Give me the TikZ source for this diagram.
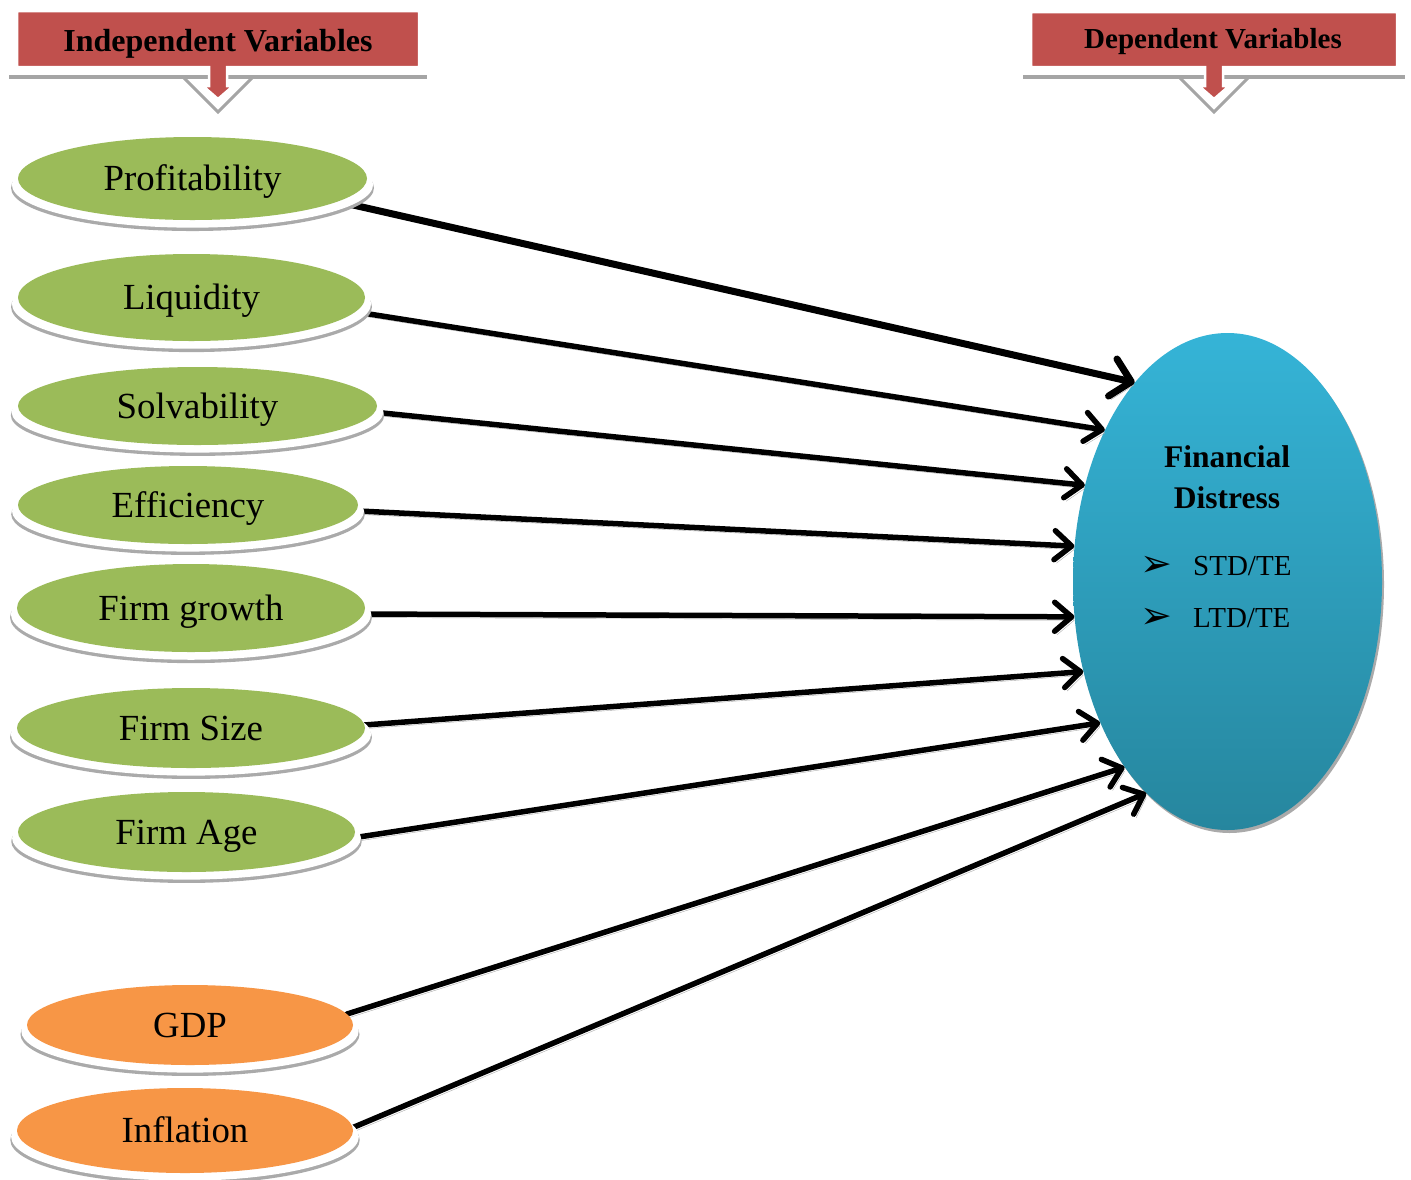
\documentclass[tikz,border=0pt]{standalone}
\usepackage{fontspec}
\setmainfont{Liberation Serif}
\newfontfamily\dejavu{DejaVu Sans}
\usetikzlibrary{shapes.geometric,arrows.meta,shadows,backgrounds}
\pgfdeclarelayer{back0}
\pgfsetlayers{back0,background,main}
\definecolor{vgreen}{RGB}{155,187,89}
\definecolor{vorange}{RGB}{247,150,70}
\definecolor{hred}{RGB}{192,80,77}
\definecolor{hgray}{RGB}{165,165,165}
\definecolor{sgray}{RGB}{170,170,170}
\definecolor{fdtop}{RGB}{53,180,215}
\definecolor{fdbot}{RGB}{38,134,158}
\begin{document}
\begin{tikzpicture}[x=1pt,y=-1pt,
  var/.style={ellipse, inner sep=0pt, text height=24.4pt, text depth=0pt,
    font=\fontsize{36.8}{40}\selectfont,
    general shadow={fill=sgray, shadow yshift=-9pt, shadow scale=1.04},
    general shadow={fill=white, shadow yshift=-6pt, shadow scale=1.035}},
  gvar/.style={var, fill=vgreen},
  ovar/.style={var, fill=vorange},
  conn/.style={line width=5.5pt, line cap=round, line join=round,
    -{Straight Barb[length=17pt, width=29pt, line cap=round, line join=round]},
    preaction={draw=sgray, transform canvas={shift={(2.5pt,-3.5pt)}}}},
  bigconn/.style={conn, line width=7pt,
    -{Straight Barb[length=19pt, width=38pt, line cap=round, line join=round]}},
  hdrtext/.style={inner sep=0pt, anchor=base, font=\bfseries\fontsize{#1}{#1}\selectfont},
  fdtext/.style={inner sep=0pt, font=\fontsize{29}{32}\selectfont, anchor=base west},
  bul/.style={inner sep=0pt, anchor=center, font=\dejavu\fontsize{38}{40}\selectfont}
]
\useasboundingbox (0,0) rectangle (1411,1179);

% ---------- headers ----------
\path[fill=white] (183,77) -- (218,112) -- (253,77) -- cycle;
\draw[draw=hgray, line width=3pt] (183,77) -- (218,112) -- (253,77);
\draw[draw=hgray, line width=4pt] (9,77) -- (427,77);
\path[fill=hred, draw=white, line width=2.5pt] (17,11) -- (419,11) -- (419,67) -- (227,67) -- (227,86) -- (233,86) -- (218,99) -- (203,86) -- (209,86) -- (209,67) -- (17,67) -- cycle;
\node[hdrtext=32] (indep) at (218,51) {Independent Variables};

\path[fill=white] (1179,77) -- (1214,112) -- (1249,77) -- cycle;
\draw[draw=hgray, line width=3pt] (1179,77) -- (1214,112) -- (1249,77);
\draw[draw=hgray, line width=4pt] (1023,77) -- (1405,77);
\path[fill=hred, draw=white, line width=2.5pt] (1031,12) -- (1397,12) -- (1397,67) -- (1223,67) -- (1223,86) -- (1229,86) -- (1214,99) -- (1199,86) -- (1205,86) -- (1205,67) -- (1031,67) -- cycle;
\node[hdrtext=29] (dep) at (1213,48) {Dependent Variables};

% ---------- dependent ellipse ----------
\begin{pgfonlayer}{back0}
\node[ellipse, minimum width=309pt, minimum height=497pt, top color=fdtop, bottom color=fdbot,
  general shadow={fill=sgray, shadow xshift=2pt, shadow yshift=-3pt}] (fd) at (1227.5,581.5) {};
\end{pgfonlayer}
\node[hdrtext=31.5] (fin) at (1227,467) {Financial};
\node[hdrtext=31.5] (dis) at (1227,508) {Distress};
\node[bul] (b1) at (1156,566) {➢};
\node[fdtext] (std) at (1193,575) {STD/TE};
\node[bul] (b2) at (1156,618) {➢};
\node[fdtext] (ltd) at (1193,627) {LTD/TE};

% ---------- independent variables ----------
\node[gvar, minimum width=349pt, minimum height=83pt] (prof) at (192.5,178.5) {Profitability};
\node[gvar, minimum width=347pt, minimum height=87pt] (liq) at (191.5,297.5) {Liquidity};
\node[gvar, minimum width=359pt, minimum height=78pt] (solv) at (197.5,406) {Solvability};
\node[gvar, minimum width=340pt, minimum height=78pt] (eff) at (188,505) {Efficiency};
\node[gvar, minimum width=348pt, minimum height=88pt] (grow) at (191,608) {Firm growth};
\node[gvar, minimum width=348pt, minimum height=80pt] (size) at (191,728) {Firm Size};
\node[gvar, minimum width=337pt, minimum height=80pt] (age) at (186.5,832) {Firm Age};
\node[ovar, minimum width=326pt, minimum height=80pt] (gdp) at (190,1025) {GDP};
\node[ovar, minimum width=336pt, minimum height=85pt] (infl) at (185,1130.5) {Inflation};

% ---------- connectors ----------
\begin{pgfonlayer}{background}
\draw[bigconn] (prof.-9.7) -- (fd.115.9);
\draw[conn] (liq.-5.7) -- (fd.129.6);
\draw[conn] (solv.-2.5) -- (fd.146);
\draw[conn] (eff.-2.3) -- (fd.167.8);
\draw[conn] (grow.-2.9) -- (fd.193);
\draw[conn] (size.1.6) -- (fd.212.6);
\draw[conn] (age.-2.7) -- (fd.228.8);
\draw[conn] (gdp.4.5) -- (fd.241.3);
\draw[conn] (infl.1.8) -- (fd.249.2);
\end{pgfonlayer}
\end{tikzpicture}
\end{document}
